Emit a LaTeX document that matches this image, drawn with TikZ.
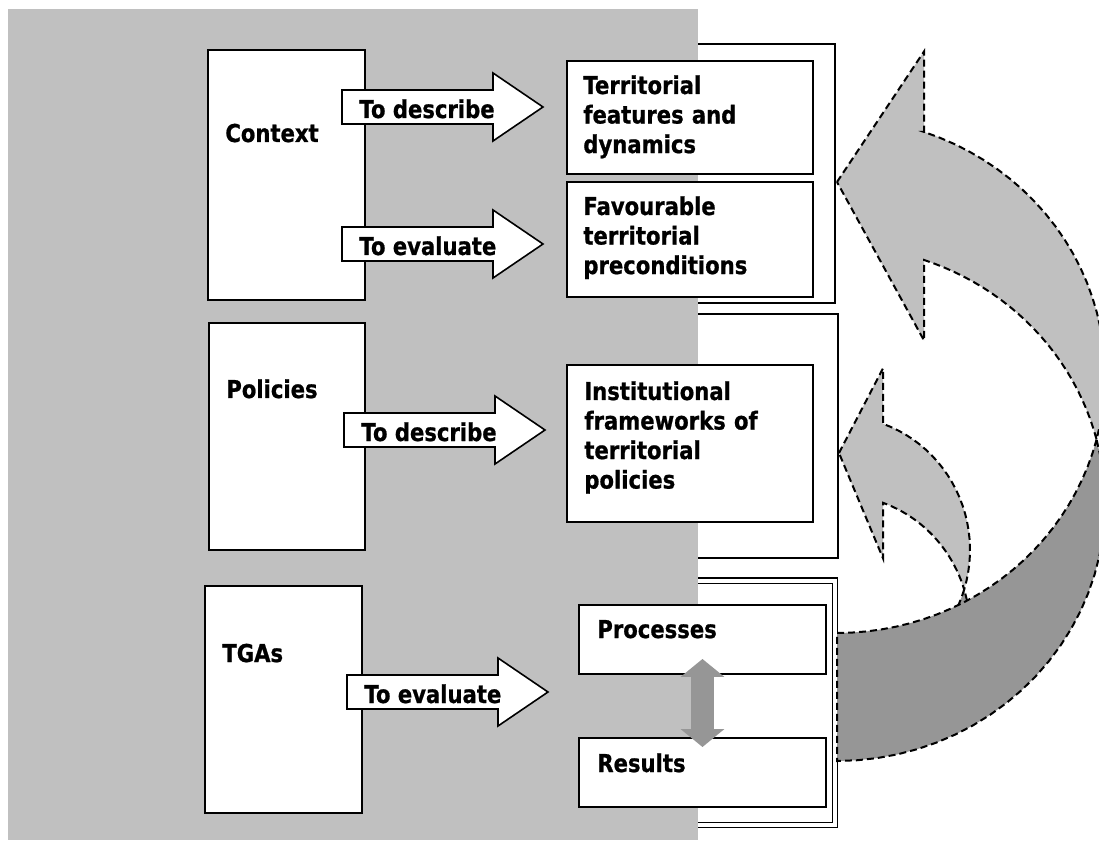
\documentclass[tikz,border=0pt]{standalone}
\usepackage{fontspec}
\setmainfont{DejaVu Sans}[FakeStretch=0.86, BoldFeatures={FakeBold=0.8}]
\usetikzlibrary{calc,arrows.meta}
\definecolor{panelgray}{HTML}{C0C0C0}
\definecolor{deepgray}{HTML}{969696}
\newcommand{\px}{0.02cm}
%block arrow with its text: name, x and y of the upper left corner of the shaft, text
\newcommand{\blockarrow}[4]{%
	\draw[blockarr] (#2,#3) -- ++(151,0) -- ++(0,-17) -- ++(50,34) -- ++(-50,34) -- ++(0,-17) -- ++(-151,0) -- cycle;
	\node[arrowtext] (#1) at (#2+17,#3+28) {#4};
}
%curved arrow from two equal ellipses: left x, x radius, y radius, centre y of upper ellipse, thickness, x of head base, y of tip, head overhang
\newcommand{\curvedarrow}[8]{%
	\pgfmathsetmacro{\angA}{-acos((#6-#1)/#2)}
	\pgfmathsetmacro{\angX}{asin(#5/(2*#3))}
	\pgfmathsetmacro{\yA}{#4+#3*sin(\angA)}
	%front part with the head
	\filldraw[curvelight] (#1,#7) -- (#6,\yA-#8) -- (#6,\yA)
		-- plot[domain=\angA:\angX] ({#1+#2*cos(\x)},{#4+#3*sin(\x)})
		-- plot[domain=-\angX:\angA] ({#1+#2*cos(\x)},{#4+#5+#3*sin(\x)})
		-- (#6,\yA+#5+#8) -- cycle;
	%back part down to the tail
	\filldraw[curvedark] plot[domain=\angX:90] ({#1+#2*cos(\x)},{#4+#3*sin(\x)})
		-- (#1,#4+#3+#5)
		-- plot[domain=90:-\angX] ({#1+#2*cos(\x)},{#4+#5+#3*sin(\x)}) -- cycle;
}
\begin{document}
\begin{tikzpicture}[x=\px, y=-\px,
	whitebox/.style={draw, line width=0.04cm, fill=white, anchor=north west, inner sep=0pt, outer sep=0pt},
	groupframe/.style={draw, line width=0.04cm, anchor=north east, inner sep=0pt, outer sep=0pt},
	labeltext/.style={font=\fontsize{14}{16.8}\selectfont\bfseries, anchor=base west, inner sep=0pt, align=left},
	arrowtext/.style={labeltext},
	blockarr/.style={draw, line width=0.032cm, fill=white, line join=miter},
	curvelight/.style={fill=panelgray, draw, dash pattern=on 0.14cm off 0.08cm, line width=0.04cm},
	curvedark/.style={curvelight, fill=deepgray},
	dblarrow/.style={draw=deepgray, line width=0.46cm, >={Triangle[length=0.36cm,width=0.86cm]}, <->}]
\useasboundingbox (0,0) rectangle (1099,844);
\clip (0,0) rectangle (1099,844);

%frames round the right column, partly hidden by the panel
\node[groupframe, minimum width=4.7cm, minimum height=5.18cm] (ctxframe) at (835,44) {};
\node[groupframe, minimum width=4.76cm, minimum height=4.88cm] (polframe) at (838,314) {};
\node[groupframe, line width=0.028cm, double=white, double distance=0.08cm,
	minimum width=4.7cm, minimum height=4.89cm] (tgaframe) at (835,580.5) {};

%grey panel
\fill[panelgray] (8,9) rectangle (698,840);

%left column
\node[whitebox, minimum width=3.14cm, minimum height=5cm] (context) at (208,50) {};
\node[labeltext] (contextlabel) at ($(context.north west)+(17,92)$) {Context};
\node[whitebox, minimum width=3.12cm, minimum height=4.54cm] (policies) at (209,323) {};
\node[labeltext] (policieslabel) at ($(policies.north west)+(17,75)$) {Policies};
\node[whitebox, minimum width=3.14cm, minimum height=4.54cm] (tgas) at (205,586) {};
\node[labeltext] (tgaslabel) at ($(tgas.north west)+(17,76)$) {TGAs};

%right column
\node[whitebox, minimum width=4.92cm, minimum height=2.26cm] (feat) at (567,61) {};
\node[labeltext, text width=4.4cm] (featlabel) at ($(feat.north west)+(16,33)$) {Territorial\\features and\\dynamics};
\node[whitebox, minimum width=4.92cm, minimum height=2.3cm] (precond) at (567,182) {};
\node[labeltext, text width=4.4cm] (precondlabel) at ($(precond.north west)+(16,33)$) {Favourable\\territorial\\preconditions};
\node[whitebox, minimum width=4.92cm, minimum height=3.14cm] (inst) at (567,365) {};
\node[labeltext, text width=4.4cm] (instlabel) at ($(inst.north west)+(17,35)$) {Institutional\\frameworks of\\territorial\\policies};
\node[whitebox, minimum width=4.94cm, minimum height=1.38cm] (proc) at (579,605) {};
\node[labeltext] (proclabel) at ($(proc.north west)+(18,33)$) {Processes};
\node[whitebox, minimum width=4.94cm, minimum height=1.38cm] (res) at (579,738) {};
\node[labeltext] (reslabel) at ($(res.north west)+(18,34)$) {Results};

%block arrows between the columns
\foreach \name/\ax/\ay/\txt in {describectx/342/90/To describe, evaluatectx/342/227/To evaluate,
	describepol/344/413/To describe, evaluatetga/347/675/To evaluate}{
	\blockarrow{\name}{\ax}{\ay}{\txt}
}

\draw[dblarrow] ($(proc.south)+(0,-15)$) -- ($(res.north)+(0,9)$);

%small curved arrow, its tail goes under the big one
\begin{scope}
	\clip (820,300) rectangle (1000,745);
	\curvedarrow{839}{131}{134}{550}{79}{883}{453}{55.5}
\end{scope}
%big curved arrow
\curvedarrow{837}{268}{257.5}{375.5}{128}{924}{182}{80.5}
\end{tikzpicture}
\end{document}
